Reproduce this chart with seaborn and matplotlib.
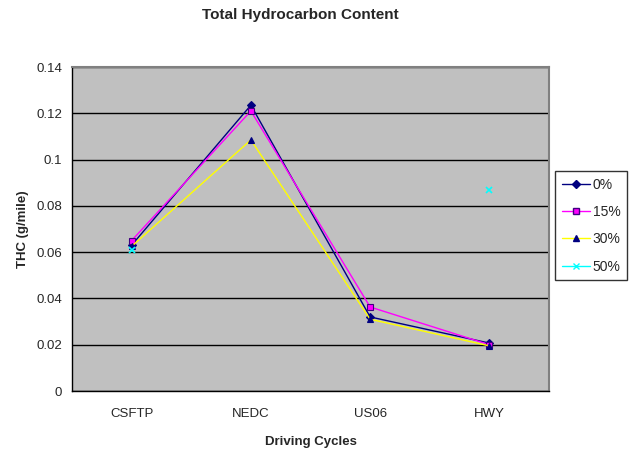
import numpy as np
import pandas as pd
import matplotlib
matplotlib.use("Agg")
import matplotlib.pyplot as plt
import seaborn as sns

# --- data ---
CYCLES = ["CSFTP", "NEDC", "US06", "HWY"]
THC_0 = [0.063, 0.1235, 0.032, 0.0207]
THC_15 = [0.065, 0.121, 0.0363, 0.020]
THC_30 = [0.0625, 0.1085, 0.031, 0.0195]
THC_50 = [0.061, np.nan, np.nan, 0.087]
SERIES = ["0%", "15%", "30%", "50%"]

STYLES = {
    "0%": dict(color="#000080", marker="D", mfc="#000080", mec="#000080", ms=4.5),
    "15%": dict(color="#FF00FF", marker="s", mfc="#FF00FF", mec="#400080", ms=5),
    "30%": dict(color="#FFFF00", marker="^", mfc="#000080", mec="#000080", ms=5),
    "50%": dict(color="#00FFFF", marker="x", mfc="#00FFFF", mec="#00FFFF", ms=5),
}

rows = []
for name, vals in zip(SERIES, [THC_0, THC_15, THC_30, THC_50]):
    seg = 0
    for cyc, v in zip(CYCLES, vals):
        if np.isnan(v):
            seg += 1  # break the line where a value is missing
            continue
        rows.append({"cycle": cyc, "thc": v, "series": name, "seg": seg})
df = pd.DataFrame(rows)

sns.set_style("white")
plt.rcParams["font.family"] = ["Liberation Sans", "DejaVu Sans"]

fig = plt.figure(figsize=(6.3, 4.5), dpi=100)
ax = fig.add_axes([72 / 630, 1 - 391 / 450, 477 / 630, 324 / 450])
ax.set_facecolor("#C0C0C0")

handles = []
for name in SERIES:
    st = STYLES[name]
    sub = df[df["series"] == name]
    for seg, part in sub.groupby("seg"):
        sns.lineplot(data=part, x="cycle", y="thc", ax=ax, color=st["color"],
                     marker=st["marker"], markersize=st["ms"],
                     markerfacecolor=st["mfc"], markeredgecolor=st["mec"],
                     markeredgewidth=1.2 if st["marker"] == "x" else 0.8,
                     linewidth=1.0, estimator=None, sort=False, legend=False)
    handles.append(plt.Line2D([], [], color=st["color"], marker=st["marker"],
                              markersize=st["ms"], markerfacecolor=st["mfc"],
                              markeredgecolor=st["mec"], linewidth=1.0, label=name))

ax.set_xlim(-0.5, len(CYCLES) - 0.5)
ax.set_ylim(0, 0.14)
yt = np.arange(0, 0.141, 0.02)
ax.set_yticks(yt)
ax.set_yticklabels(["0", "0.02", "0.04", "0.06", "0.08", "0.1", "0.12", "0.14"], fontsize=9.5)
ax.yaxis.grid(True, color="black", linewidth=1.0)
ax.set_axisbelow(True)

# category labels between boundary ticks (Excel style)
ax.set_xticks(np.arange(-0.5, len(CYCLES), 1.0))
ax.set_xticklabels([])
ax.set_xticks(np.arange(len(CYCLES)), minor=True)
ax.set_xticklabels(CYCLES, minor=True, fontsize=9.5)
ax.tick_params(axis="x", which="minor", length=0, pad=12)
ax.tick_params(axis="both", which="major", length=4, width=1, color="black", direction="out")
ax.tick_params(axis="y", pad=3)

for side in ["top", "right"]:
    ax.spines[side].set_color("#808080")
    ax.spines[side].set_linewidth(1.5)
for side in ["left", "bottom"]:
    ax.spines[side].set_color("black")
    ax.spines[side].set_linewidth(1.0)

ax.set_xlabel("Driving Cycles", fontsize=9.5, fontweight="bold", labelpad=12)
ax.set_ylabel("THC (g/mile)", fontsize=9.5, fontweight="bold", labelpad=5)
fig.text(300 / 630, 1 - 15 / 450, "Total Hydrocarbon Content", ha="center", va="center",
         fontsize=11, fontweight="bold")

leg = fig.legend(handles=handles, loc="upper left",
                 bbox_to_anchor=(555 / 630, 1 - 171 / 450), fontsize=10,
                 frameon=True, fancybox=False, handlelength=2.0,
                 labelspacing=0.95, borderpad=0.5, handletextpad=0.2,
                 borderaxespad=0.0)
leg.get_frame().set_edgecolor("black")
leg.get_frame().set_linewidth(1.0)

fig.savefig("out.png", dpi=100)
